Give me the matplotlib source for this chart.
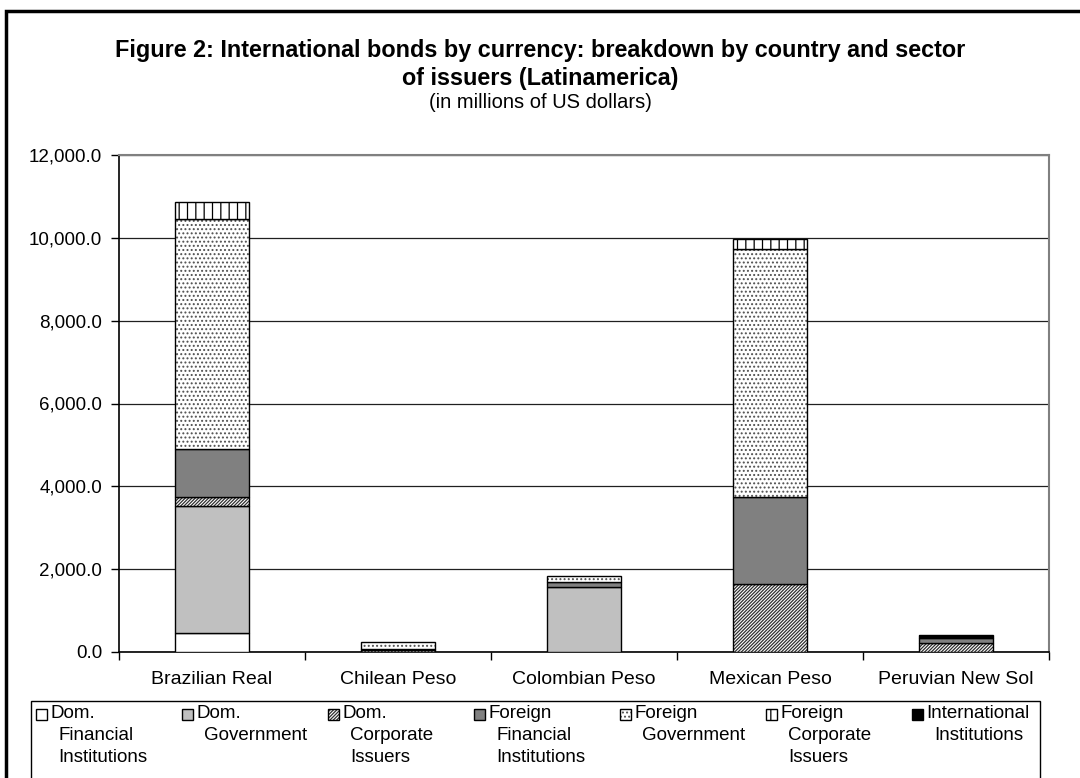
import matplotlib.pyplot as plt
import matplotlib.patches as mpatches
import numpy as np

# ---------------------------------------------------------------------------
# Data (millions of US dollars)
# ---------------------------------------------------------------------------

categories = ["Brazilian Real", "Chilean Peso", "Colombian Peso", "Mexican Peso", "Peruvian New Sol"]

dom_financial = [460, 0, 0, 0, 0]
dom_government = [3060, 0, 1580, 0, 0]
dom_corporate = [225, 40, 0, 1630, 220]
foreign_financial = [1160, 40, 100, 2120, 120]
foreign_government = [5550, 150, 160, 5970, 0]
foreign_corporate = [400, 0, 0, 260, 0]
international = [0, 0, 0, 0, 80]

series_labels = [
    ["Dom.", "Financial", "Institutions"],
    ["Dom.", "Government"],
    ["Dom.", "Corporate", "Issuers"],
    ["Foreign", "Financial", "Institutions"],
    ["Foreign", "Government"],
    ["Foreign", "Corporate", "Issuers"],
    ["International", "Institutions"],
]

yticks = [0, 2000, 4000, 6000, 8000, 10000, 12000]

# ---------------------------------------------------------------------------
# Styling
# ---------------------------------------------------------------------------

plt.rcParams['font.family'] = ['Liberation Sans', 'DejaVu Sans']
plt.rcParams['hatch.linewidth'] = 0.9

# face colour, hatch pattern, hatch colour
styles = [
    ('white', None, None),
    ('#c0c0c0', None, None),
    ('white', '//////////', '#303030'),
    ('#808080', None, None),
    ('white', '....', '#505050'),
    ('white', '||', 'black'),
    ('black', None, None),
]

series = [dom_financial, dom_government, dom_corporate, foreign_financial,
          foreign_government, foreign_corporate, international]


def patterned_patch(draw, style, **kw):
    """Fill (with hatch in its own colour) then a black outline on top."""
    face, hatch, hcolor = style
    draw(facecolor=face, hatch=hatch, edgecolor=hcolor if hatch else face,
         linewidth=0, **kw)
    draw(facecolor='none', edgecolor='black', linewidth=1.0, **kw)


# ---------------------------------------------------------------------------
# Figure
# ---------------------------------------------------------------------------

W, H = 1080, 778
FS = 13.5
fig = plt.figure(figsize=(W / 100, H / 100), dpi=100)

# outer chart frame (runs off the right and bottom edges)
fig.patches.append(mpatches.Rectangle((6 / W, -0.05), 1.2, 1 - 11 / H + 0.05,
                                      transform=fig.transFigure, fill=False,
                                      edgecolor='black', linewidth=2.5))

left, right, top, bottom = 119, 1049, 155, 652
ax = fig.add_axes([left / W, 1 - bottom / H, (right - left) / W, (bottom - top) / H])

x = np.arange(len(categories))
base = np.zeros(len(categories))
for values, style in zip(series, styles):
    vals = np.array(values, dtype=float)
    keep = vals > 0
    b = base.copy()
    patterned_patch(lambda **kw: ax.bar(x[keep], vals[keep], width=0.4,
                                        bottom=b[keep], zorder=3, **kw), style)
    base += vals

ax.set_xlim(-0.5, len(categories) - 0.5)
ax.set_ylim(0, 12000)
ax.set_yticks(yticks)
ax.set_yticklabels([f"{v:,.1f}" for v in yticks], fontsize=FS)
ax.yaxis.grid(True, color='#202020', linewidth=0.9, zorder=0)

ax.set_xticks(x)
ax.set_xticklabels(categories, fontsize=14)
ax.tick_params(axis='x', which='major', length=0, pad=14)
ax.set_xticks(np.arange(-0.5, len(categories)), minor=True)
ax.tick_params(axis='x', which='minor', length=6, width=1, direction='out')
ax.tick_params(axis='y', length=6, width=1, direction='out', pad=6)

for side in ('left', 'bottom'):
    ax.spines[side].set_color('black')
    ax.spines[side].set_linewidth(1.2)
for side in ('top', 'right'):
    ax.spines[side].set_color('#808080')
    ax.spines[side].set_linewidth(1.5)

# titles
fig.text(0.5, 1 - 51 / H, "Figure 2: International bonds by currency: breakdown by country and sector",
         ha='center', va='center', fontsize=16.8, fontweight='bold')
fig.text(0.5, 1 - 79 / H, "of issuers (Latinamerica)",
         ha='center', va='center', fontsize=16.8, fontweight='bold')
fig.text(0.5, 1 - 103 / H, "(in millions of US dollars)",
         ha='center', va='center', fontsize=14.5)

# legend along the bottom, built by hand so the marker sits on the first line
leg_left, leg_right, leg_top = 31, 1040, 701
fig.patches.append(mpatches.Rectangle((leg_left / W, -0.05), (leg_right - leg_left) / W,
                                      1 - leg_top / H + 0.05, transform=fig.transFigure,
                                      facecolor='white', edgecolor='black', linewidth=1.0))
col_w = 146
line_h = 22
box = 11
for i, (lines, style) in enumerate(zip(series_labels, styles)):
    hx = 36 + i * col_w
    y0 = leg_top + 13
    patterned_patch(lambda **kw: fig.patches.append(
        mpatches.Rectangle((hx / W, 1 - (y0 + box / 2) / H), box / W, box / H,
                           transform=fig.transFigure, **kw)), style)
    fig.text((hx + box + 3) / W, 1 - y0 / H, lines[0], ha='left', va='center', fontsize=FS)
    for j, line in enumerate(lines[1:], start=1):
        fig.text((hx + box + 11) / W, 1 - (y0 + j * line_h) / H, line,
                 ha='left', va='center', fontsize=FS)

fig.savefig("out.png", dpi=100)
